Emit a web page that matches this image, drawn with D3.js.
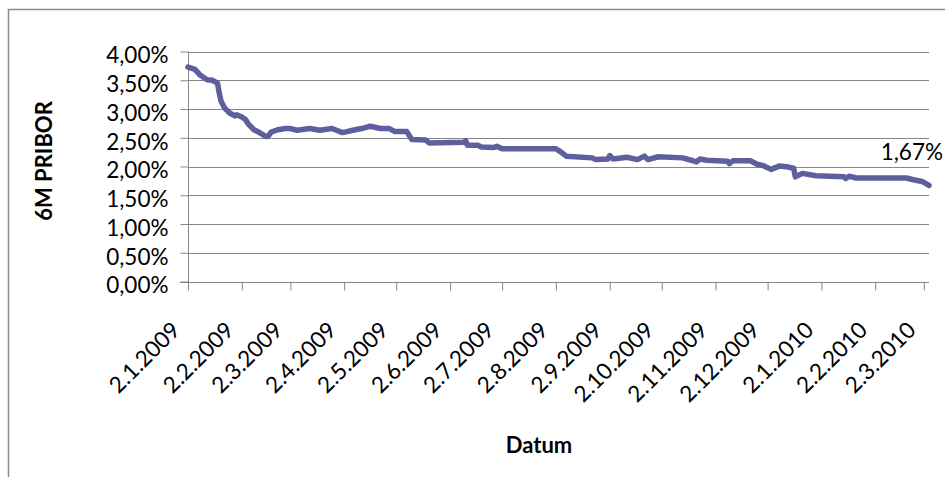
<!DOCTYPE html>
<html>
<head>
<meta charset="utf-8">
<script src="https://cdn.jsdelivr.net/npm/d3@7"></script>
<style>
  html, body { margin: 0; padding: 0; background: #fff; }
  svg { display: block; }
  text { font-family: Lato, "Open Sans", sans-serif; fill: #000; }
</style>
</head>
<body>
<svg id="chart" width="945" height="477"></svg>
<script>
const dates = ["2009-01-02","2009-01-06","2009-01-09","2009-01-13","2009-01-16","2009-01-19","2009-01-20","2009-01-21","2009-01-23","2009-01-26","2009-01-29","2009-01-30","2009-02-02","2009-02-04","2009-02-06","2009-02-09","2009-02-11","2009-02-16","2009-02-17","2009-02-19","2009-02-23","2009-02-27","2009-03-02","2009-03-06","2009-03-13","2009-03-19","2009-03-26","2009-04-01","2009-04-07","2009-04-12","2009-04-17","2009-04-23","2009-04-28","2009-05-01","2009-05-08","2009-05-11","2009-05-19","2009-05-21","2009-06-10","2009-06-11","2009-06-12","2009-06-18","2009-06-20","2009-06-27","2009-06-29","2009-07-02","2009-08-02","2009-08-05","2009-08-08","2009-08-23","2009-08-25","2009-09-01","2009-09-02","2009-09-04","2009-09-12","2009-09-18","2009-09-22","2009-09-24","2009-09-30","2009-10-14","2009-10-20","2009-10-22","2009-10-24","2009-10-28","2009-11-09","2009-11-10","2009-11-12","2009-11-22","2009-11-26","2009-11-29","2009-12-04","2009-12-09","2009-12-14","2009-12-17","2009-12-18","2009-12-22","2009-12-30","2010-01-15","2010-01-16","2010-01-18","2010-01-22","2010-02-20","2010-02-24","2010-03-01","2010-03-05"];
const pribor = [3.73,3.69,3.59,3.51,3.50,3.45,3.28,3.14,3.02,2.93,2.88,2.90,2.86,2.82,2.73,2.64,2.61,2.52,2.52,2.60,2.64,2.66,2.66,2.63,2.66,2.63,2.66,2.59,2.63,2.66,2.70,2.66,2.66,2.61,2.61,2.47,2.46,2.41,2.42,2.45,2.37,2.37,2.34,2.33,2.35,2.31,2.31,2.25,2.18,2.15,2.12,2.13,2.19,2.13,2.16,2.12,2.18,2.12,2.17,2.15,2.10,2.08,2.13,2.11,2.09,2.05,2.10,2.10,2.04,2.02,1.95,2.01,1.99,1.97,1.82,1.88,1.84,1.82,1.79,1.83,1.80,1.80,1.77,1.74,1.67];
const xTickDates = ["2009-01-02","2009-02-02","2009-03-02","2009-04-02","2009-05-02","2009-06-02","2009-07-02","2009-08-02","2009-09-02","2009-10-02","2009-11-02","2009-12-02","2010-01-02","2010-02-02","2010-03-02"];
const xTickLabels = ["2.1.2009","2.2.2009","2.3.2009","2.4.2009","2.5.2009","2.6.2009","2.7.2009","2.8.2009","2.9.2009","2.10.2009","2.11.2009","2.12.2009","2.1.2010","2.2.2010","2.3.2010"];
const yTicks = [0,0.5,1,1.5,2,2.5,3,3.5,4];
const xDomain = ["2009-01-02","2010-03-05"];
const yTitle = "6M PRIBOR";
const xTitle = "Datum";
const lastLabel = "1,67%";

const parse = d3.timeParse("%Y-%m-%d");
const data = dates.map((d,i) => ({date: parse(d), v: pribor[i]}));
const svg = d3.select("#chart");
const grid = "#878787";

// outer chart border
svg.append("rect").attr("x",8.5).attr("y",9.5).attr("width",1000).attr("height",1000)
  .attr("fill","none").attr("stroke","#8a8a8a").attr("stroke-width",1.5);

const x = d3.scaleTime().domain(xDomain.map(parse)).range([188, 929]);
const y = d3.scaleLinear().domain([0, 4]).range([281.5, 51.5]);

const loc = d3.formatLocale({decimal: ",", thousands: ".", grouping: [3], currency: ["", ""]});
const fmt = v => loc.format(".2f")(v) + "%";

// gridlines
svg.append("g").selectAll("line").data(yTicks.filter(t => t > 0)).join("line")
  .attr("x1", 188).attr("x2", 929)
  .attr("y1", d => Math.round(y(d)) + 0.5).attr("y2", d => Math.round(y(d)) + 0.5)
  .attr("stroke", grid).attr("stroke-width", 1);

// y axis
const yAxis = svg.append("g").attr("transform", "translate(188.5,0)")
  .call(d3.axisLeft(y).tickValues(yTicks).tickFormat(fmt).tickSize(8).tickPadding(12).tickSizeOuter(0));
yAxis.select(".domain").attr("stroke", grid).attr("d", "M0," + y(4) + "V" + (y(0) + 8));
yAxis.selectAll(".tick line").attr("stroke", grid);
yAxis.selectAll(".tick text").attr("font-size", 22.5).attr("font-family", "Lato").attr("fill", "#000").attr("dy", "0.5em");

// x axis
const tickD = xTickDates.map(parse);
const xAxis = svg.append("g").attr("transform", "translate(0," + (Math.round(y(0)) + 0.5) + ")")
  .call(d3.axisBottom(x).tickValues(tickD).tickFormat((d,i) => xTickLabels[i]).tickSize(8).tickSizeOuter(0));
xAxis.select(".domain").attr("stroke", grid).attr("d", "M180,0H929");
xAxis.selectAll(".tick line").attr("stroke", grid);
xAxis.selectAll(".tick text")
  .attr("font-size", 22.5).attr("font-family", "Lato").attr("fill", "#000")
  .attr("text-anchor", "end").attr("y", 0).attr("dy", 0)
  .attr("transform", "translate(-7,49) rotate(-45)");

// line
const line = d3.line().x(d => x(d.date)).y(d => y(d.v)).curve(d3.curveLinear);
svg.append("path").datum(data).attr("d", line)
  .attr("fill", "none").attr("stroke", "#5f5f9e").attr("stroke-width", 5.5)
  .attr("stroke-linejoin", "round").attr("stroke-linecap", "round");

// last value label
const last = data[data.length - 1];
svg.append("text").attr("x", x(last.date) + 14).attr("y", y(last.v) - 25)
  .attr("text-anchor", "end").attr("font-size", 22.5).text(lastLabel);

// titles
svg.append("text").attr("transform", "translate(52,161) rotate(-90)")
  .attr("text-anchor", "middle").attr("font-size", 22).attr("font-weight", "bold").text(yTitle);
svg.append("text").attr("x", 539).attr("y", 453)
  .attr("text-anchor", "middle").attr("font-size", 22).attr("font-weight", "bold").text(xTitle);
</script>
</body>
</html>
